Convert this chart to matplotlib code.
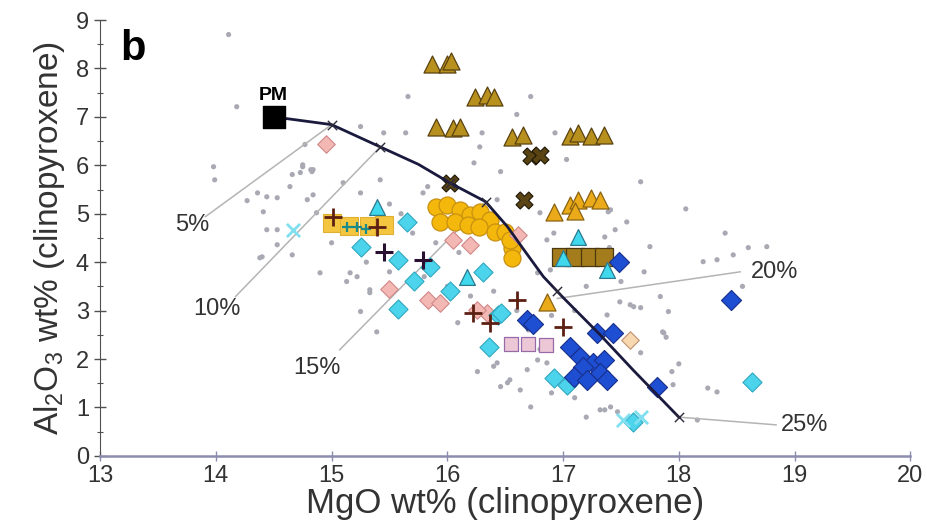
#!/usr/bin/env python3
"""Al2O3 vs MgO in clinopyroxene, panel b, with melting curve from PM."""

import matplotlib
matplotlib.use("Agg")
import matplotlib.pyplot as plt
from matplotlib.ticker import MultipleLocator

plt.rcParams["font.family"] = ["Liberation Sans", "DejaVu Sans"]
plt.rcParams["mathtext.fontset"] = "custom"
plt.rcParams["mathtext.rm"] = "Liberation Sans"
plt.rcParams["mathtext.it"] = "Liberation Sans:italic"

# background compilation (small grey dots)
bg_x = [14.11, 14.18, 13.98, 13.99, 14.27, 14.36, 14.44, 14.53, 14.41, 14.44, 14.53, 14.64,
        14.73, 14.82, 14.79, 14.87, 15.66, 16.72, 16.60, 15.25, 15.45, 15.64, 16.28, 16.30,
        16.23, 16.46, 16.93, 17.03, 14.77, 14.84, 14.75, 15.10, 15.25, 15.42, 15.79, 16.43,
        16.80, 17.41, 17.45, 17.67, 18.06, 18.40, 17.75, 18.60, 18.76, 18.47, 17.39, 17.55,
        18.21, 18.33, 17.36, 16.92, 17.84, 17.91, 17.67, 17.58, 17.49, 17.38, 17.86, 17.89,
        17.94, 17.95, 18.25, 18.33, 18.16, 17.36, 17.47, 16.26, 16.43, 16.46, 16.54, 16.63,
        16.72, 16.69, 16.78, 16.86, 17.32, 17.41, 17.61, 17.87, 17.67, 14.90, 15.25, 15.33,
        15.39, 15.16, 16.52, 16.40, 14.38, 14.66, 14.66, 14.75, 14.83, 14.53, 14.40, 15.13,
        15.83, 16.86, 16.89, 16.78, 15.22, 15.33, 16.09, 15.50, 15.60, 15.70, 15.90, 16.10,
        15.30, 15.50, 15.80, 16.00, 16.20, 16.40, 16.60, 16.70, 16.90, 17.10, 17.20, 17.50,
        17.70, 17.40, 16.80, 16.90, 17.10, 17.20, 14.84, 15.00, 18.55, 18.00]
bg_y = [8.70, 7.21, 5.97, 5.70, 5.27, 5.43, 5.35, 5.33, 5.04, 4.67, 4.67, 5.56,
        5.85, 5.91, 5.29, 5.02, 7.42, 7.42, 7.05, 6.80, 6.67, 6.67, 6.38, 6.67,
        6.05, 5.87, 6.67, 6.12, 6.43, 5.91, 5.97, 5.64, 5.43, 5.70, 5.43, 5.29,
        5.02, 5.08, 4.67, 5.66, 5.10, 4.60, 4.32, 4.30, 4.32, 4.15, 5.04, 4.83,
        4.01, 4.05, 4.52, 4.60, 3.29, 2.98, 3.06, 3.12, 3.18, 2.91, 2.56, 2.45,
        1.74, 1.47, 1.40, 1.32, 0.74, 0.95, 0.91, 1.74, 1.92, 1.43, 1.57, 1.36,
        1.01, 1.78, 1.98, 1.92, 0.95, 1.01, 3.08, 2.54, 2.13, 3.78, 2.98, 3.43,
        2.56, 3.78, 1.51, 1.85, 4.09, 4.15, 5.81, 6.01, 5.87, 4.36, 4.11, 3.60,
        5.56, 4.46, 3.84, 3.78, 3.70, 3.37, 2.75, 5.20, 5.00, 4.60, 4.40, 4.20,
        4.00, 3.80, 3.70, 3.50, 3.30, 3.40, 3.00, 2.60, 2.90, 3.00, 3.50, 3.60,
        3.80, 4.30, 2.20, 1.30, 1.20, 0.80, 5.39, 4.40, 3.50, 1.90]

# melting curve from PM
curve_x = [14.5, 15.0, 15.42, 15.75, 16.02, 16.33, 16.52, 16.66, 16.83, 17.0, 17.32, 17.61, 18.0]
curve_y = [7.0, 6.84, 6.38, 6.02, 5.64, 5.25, 4.73, 4.26, 3.70, 3.27, 2.50, 1.76, 0.80]
tick_x = [15.0, 15.42, 16.02, 16.33, 16.95, 18.0]
tick_y = [6.84, 6.38, 5.64, 5.25, 3.40, 0.80]

# melt percentage labels: label position and curve point
pct_labels = ["5%", "10%", "15%", "20%", "25%"]
pct_lx = [13.80, 14.01, 14.87, 18.83, 19.09]
pct_ly = [4.77, 3.04, 1.82, 3.80, 0.64]
lead_x0 = [13.91, 14.17, 15.07, 18.53, 18.84]
lead_y0 = [4.94, 3.29, 2.19, 3.80, 0.64]
lead_x1 = [15.0, 15.42, 16.33, 16.95, 18.0]
lead_y1 = [6.84, 6.38, 5.25, 3.25, 0.80]

# olive triangles
tri_ol_x = [15.87, 16.00, 16.03, 16.24, 16.34, 16.40, 15.90, 16.05, 16.11,
            16.56, 16.65, 17.06, 17.13, 17.24, 17.35]
tri_ol_y = [8.10, 8.10, 8.15, 7.42, 7.46, 7.42, 6.80, 6.78, 6.80,
            6.59, 6.63, 6.60, 6.67, 6.60, 6.63]
# orange-gold triangles
tri_go_x = [16.92, 17.06, 17.13, 17.24, 17.32, 17.10, 16.86]
tri_go_y = [5.04, 5.19, 5.29, 5.33, 5.29, 5.05, 3.18]
# cyan triangles
tri_cy_x = [15.39, 16.17, 17.13, 17.00, 17.38]
tri_cy_y = [5.14, 3.70, 4.52, 4.09, 3.84]

# gold circles
circ_x = [15.90, 16.00, 16.11, 16.20, 16.28, 16.37, 15.94, 16.07, 16.18, 16.27,
          16.41, 16.50, 16.56, 16.56, 16.54]
circ_y = [5.14, 5.19, 5.08, 4.98, 5.04, 4.88, 4.83, 4.83, 4.77, 4.73,
          4.63, 4.63, 4.30, 4.09, 4.46]

# squares
sq_gold_x = [15.00, 15.15, 15.32, 15.45]
sq_gold_y = [4.80, 4.74, 4.74, 4.77]
sq_brown_x = [16.98, 17.10, 17.23, 17.35]
sq_brown_y = [4.11, 4.11, 4.11, 4.11]
sq_lav_x = [16.55, 16.70, 16.85]
sq_lav_y = [2.32, 2.30, 2.28]

# diamonds
dia_pink_x = [14.95, 15.83, 15.94, 16.05, 16.61, 16.34, 16.26, 15.50, 16.20]
dia_pink_y = [6.43, 3.22, 3.16, 4.46, 4.57, 2.95, 3.02, 3.45, 4.35]
dia_tan_x = [17.58]
dia_tan_y = [2.40]
dia_cy_x = [15.65, 15.57, 15.71, 15.57, 16.02, 16.31, 16.44, 16.36, 16.46, 16.92,
            17.03, 17.60, 18.63, 15.25, 15.85]
dia_cy_y = [4.83, 4.05, 3.62, 3.03, 3.41, 3.79, 2.90, 2.25, 2.95, 1.60,
            1.47, 0.70, 1.53, 4.32, 3.90]
dia_bl_x = [16.69, 16.74, 17.06, 17.15, 17.26, 17.35, 17.32, 17.17, 17.09, 17.21,
            17.38, 17.29, 17.43, 17.81, 18.45, 17.48]
dia_bl_y = [2.81, 2.72, 2.25, 2.05, 1.92, 1.98, 1.71, 1.84, 1.63, 1.57,
            1.57, 2.54, 2.54, 1.43, 3.22, 4.01]

# crosses
plus_x = [15.01, 15.39, 16.22, 16.60, 17.00, 16.37]
plus_y = [4.94, 4.73, 2.95, 3.22, 2.67, 2.75]
plus_dk_x = [15.45, 15.79]
plus_dk_y = [4.21, 4.05]
plus_teal_x = [15.13, 15.22, 15.30]
plus_teal_y = [4.72, 4.72, 4.68]
xbig_x = [16.02, 16.72, 16.80, 16.66]
xbig_y = [5.64, 6.20, 6.22, 5.29]
xcy_x = [17.67, 17.52, 14.67]
xcy_y = [0.80, 0.75, 4.67]

PM_X, PM_Y = 14.5, 7.0


def main() -> int:
    fig = plt.figure(figsize=(9.27, 5.27), dpi=100)
    ax = fig.add_axes([0.108, 0.135, 0.874, 0.827])

    ax.scatter(bg_x, bg_y, s=14, color="#a9a9b4", edgecolor="none", zorder=1)

    for x0, y0, x1, y1 in zip(lead_x0, lead_y0, lead_x1, lead_y1):
        ax.plot([x0, x1], [y0, y1], color="#b4b4b4", lw=1.1, zorder=1.5)

    ax.scatter(tri_ol_x, tri_ol_y, s=150, marker="^", color="#b8901e", edgecolor="#5a4210", lw=0.9, zorder=3)
    ax.scatter(tri_go_x, tri_go_y, s=150, marker="^", color="#eaaa1a", edgecolor="#8a6210", lw=0.9, zorder=3)
    ax.scatter(sq_gold_x, sq_gold_y, s=150, marker="s", color="#f4c640", edgecolor="#e0b030", lw=0.8, zorder=2.5)
    ax.scatter(sq_brown_x, sq_brown_y, s=150, marker="s", color="#a57c1c", edgecolor="#4a3810", lw=0.9, zorder=2.5)
    ax.scatter(sq_lav_x, sq_lav_y, s=110, marker="s", color="#ecc8d6", edgecolor="#9a6aa8", lw=0.9, zorder=2.5)
    ax.scatter(circ_x, circ_y, s=150, marker="o", color="#f4b80c", edgecolor="#c89010", lw=0.9, zorder=3)
    ax.scatter(dia_pink_x, dia_pink_y, s=80, marker="D", color="#f4b8b4", edgecolor="#d08888", lw=0.8, zorder=3)
    ax.scatter(dia_tan_x, dia_tan_y, s=80, marker="D", color="#f8d8b0", edgecolor="#c09070", lw=0.8, zorder=3)
    ax.scatter(dia_cy_x, dia_cy_y, s=95, marker="D", color="#4cd4ec", edgecolor="#30a8c0", lw=0.8, zorder=3.2)
    ax.scatter(tri_cy_x, tri_cy_y, s=130, marker="^", color="#40d8ec", edgecolor="#2a7a90", lw=0.9, zorder=3.3)
    ax.scatter(dia_bl_x, dia_bl_y, s=105, marker="D", color="#1e4ed2", edgecolor="#18308a", lw=0.8, zorder=3.4)
    ax.scatter(xcy_x, xcy_y, s=90, marker="x", color="#80e0f0", lw=2.0, zorder=3.4)
    ax.scatter(plus_teal_x, plus_teal_y, s=60, marker="+", color="#1a8a8a", lw=1.6, zorder=3.5)
    ax.scatter(plus_x, plus_y, s=150, marker="+", color="#5c2012", lw=2.0, zorder=3.6)
    ax.scatter(plus_dk_x, plus_dk_y, s=150, marker="+", color="#2a1030", lw=2.2, zorder=3.6)
    ax.scatter(xbig_x, xbig_y, s=150, marker="X", color="#5a4414", edgecolor="#1e1608", lw=0.8, zorder=3.7)

    ax.plot(curve_x, curve_y, color="#1a1a3e", lw=2.0, zorder=4)
    ax.scatter(tick_x, tick_y, s=45, marker="x", color="#2a2a3a", lw=1.0, zorder=4.1)
    ax.scatter([PM_X], [PM_Y], s=230, marker="s", color="black", zorder=5)

    ax.text(PM_X, PM_Y + 0.45, "PM", fontsize=14, fontweight="bold", ha="center", va="center", zorder=6)
    ax.text(13.28, 8.4, "b", fontsize=30, fontweight="bold", ha="center", va="center")
    for lab, lx, ly in zip(pct_labels, pct_lx, pct_ly):
        ax.text(lx, ly, lab, fontsize=17, color="#333333", ha="center", va="center")

    ax.set_xlim(13, 20)
    ax.set_ylim(0, 9)
    ax.xaxis.set_major_locator(MultipleLocator(1))
    ax.yaxis.set_major_locator(MultipleLocator(1))
    ax.yaxis.set_minor_locator(MultipleLocator(0.5))
    ax.spines["top"].set_visible(False)
    ax.spines["right"].set_visible(False)
    ax.spines["left"].set_color("#505050")
    ax.spines["bottom"].set_color("#8c8cae")
    ax.spines["bottom"].set_linewidth(1.8)
    ax.tick_params(axis="y", which="major", direction="inout", length=8, width=1.0,
                   color="#505050", labelsize=17, labelcolor="#333333", pad=4)
    ax.tick_params(axis="y", which="minor", direction="inout", length=5, width=0.8, color="#505050")
    ax.tick_params(axis="x", which="major", direction="inout", length=7, width=1.0,
                   color="#8c8cae", labelsize=17, labelcolor="#333333", pad=3)

    ax.set_xlabel("MgO wt% (clinopyroxene)", fontsize=25, color="#333333", labelpad=0)
    ax.set_ylabel(r"Al$_2$O$_3$ wt% (clinopyroxene)", fontsize=24, color="#333333", labelpad=6)

    fig.savefig("out.png", dpi=100)
    return 0


if __name__ == "__main__":
    raise SystemExit(main())
